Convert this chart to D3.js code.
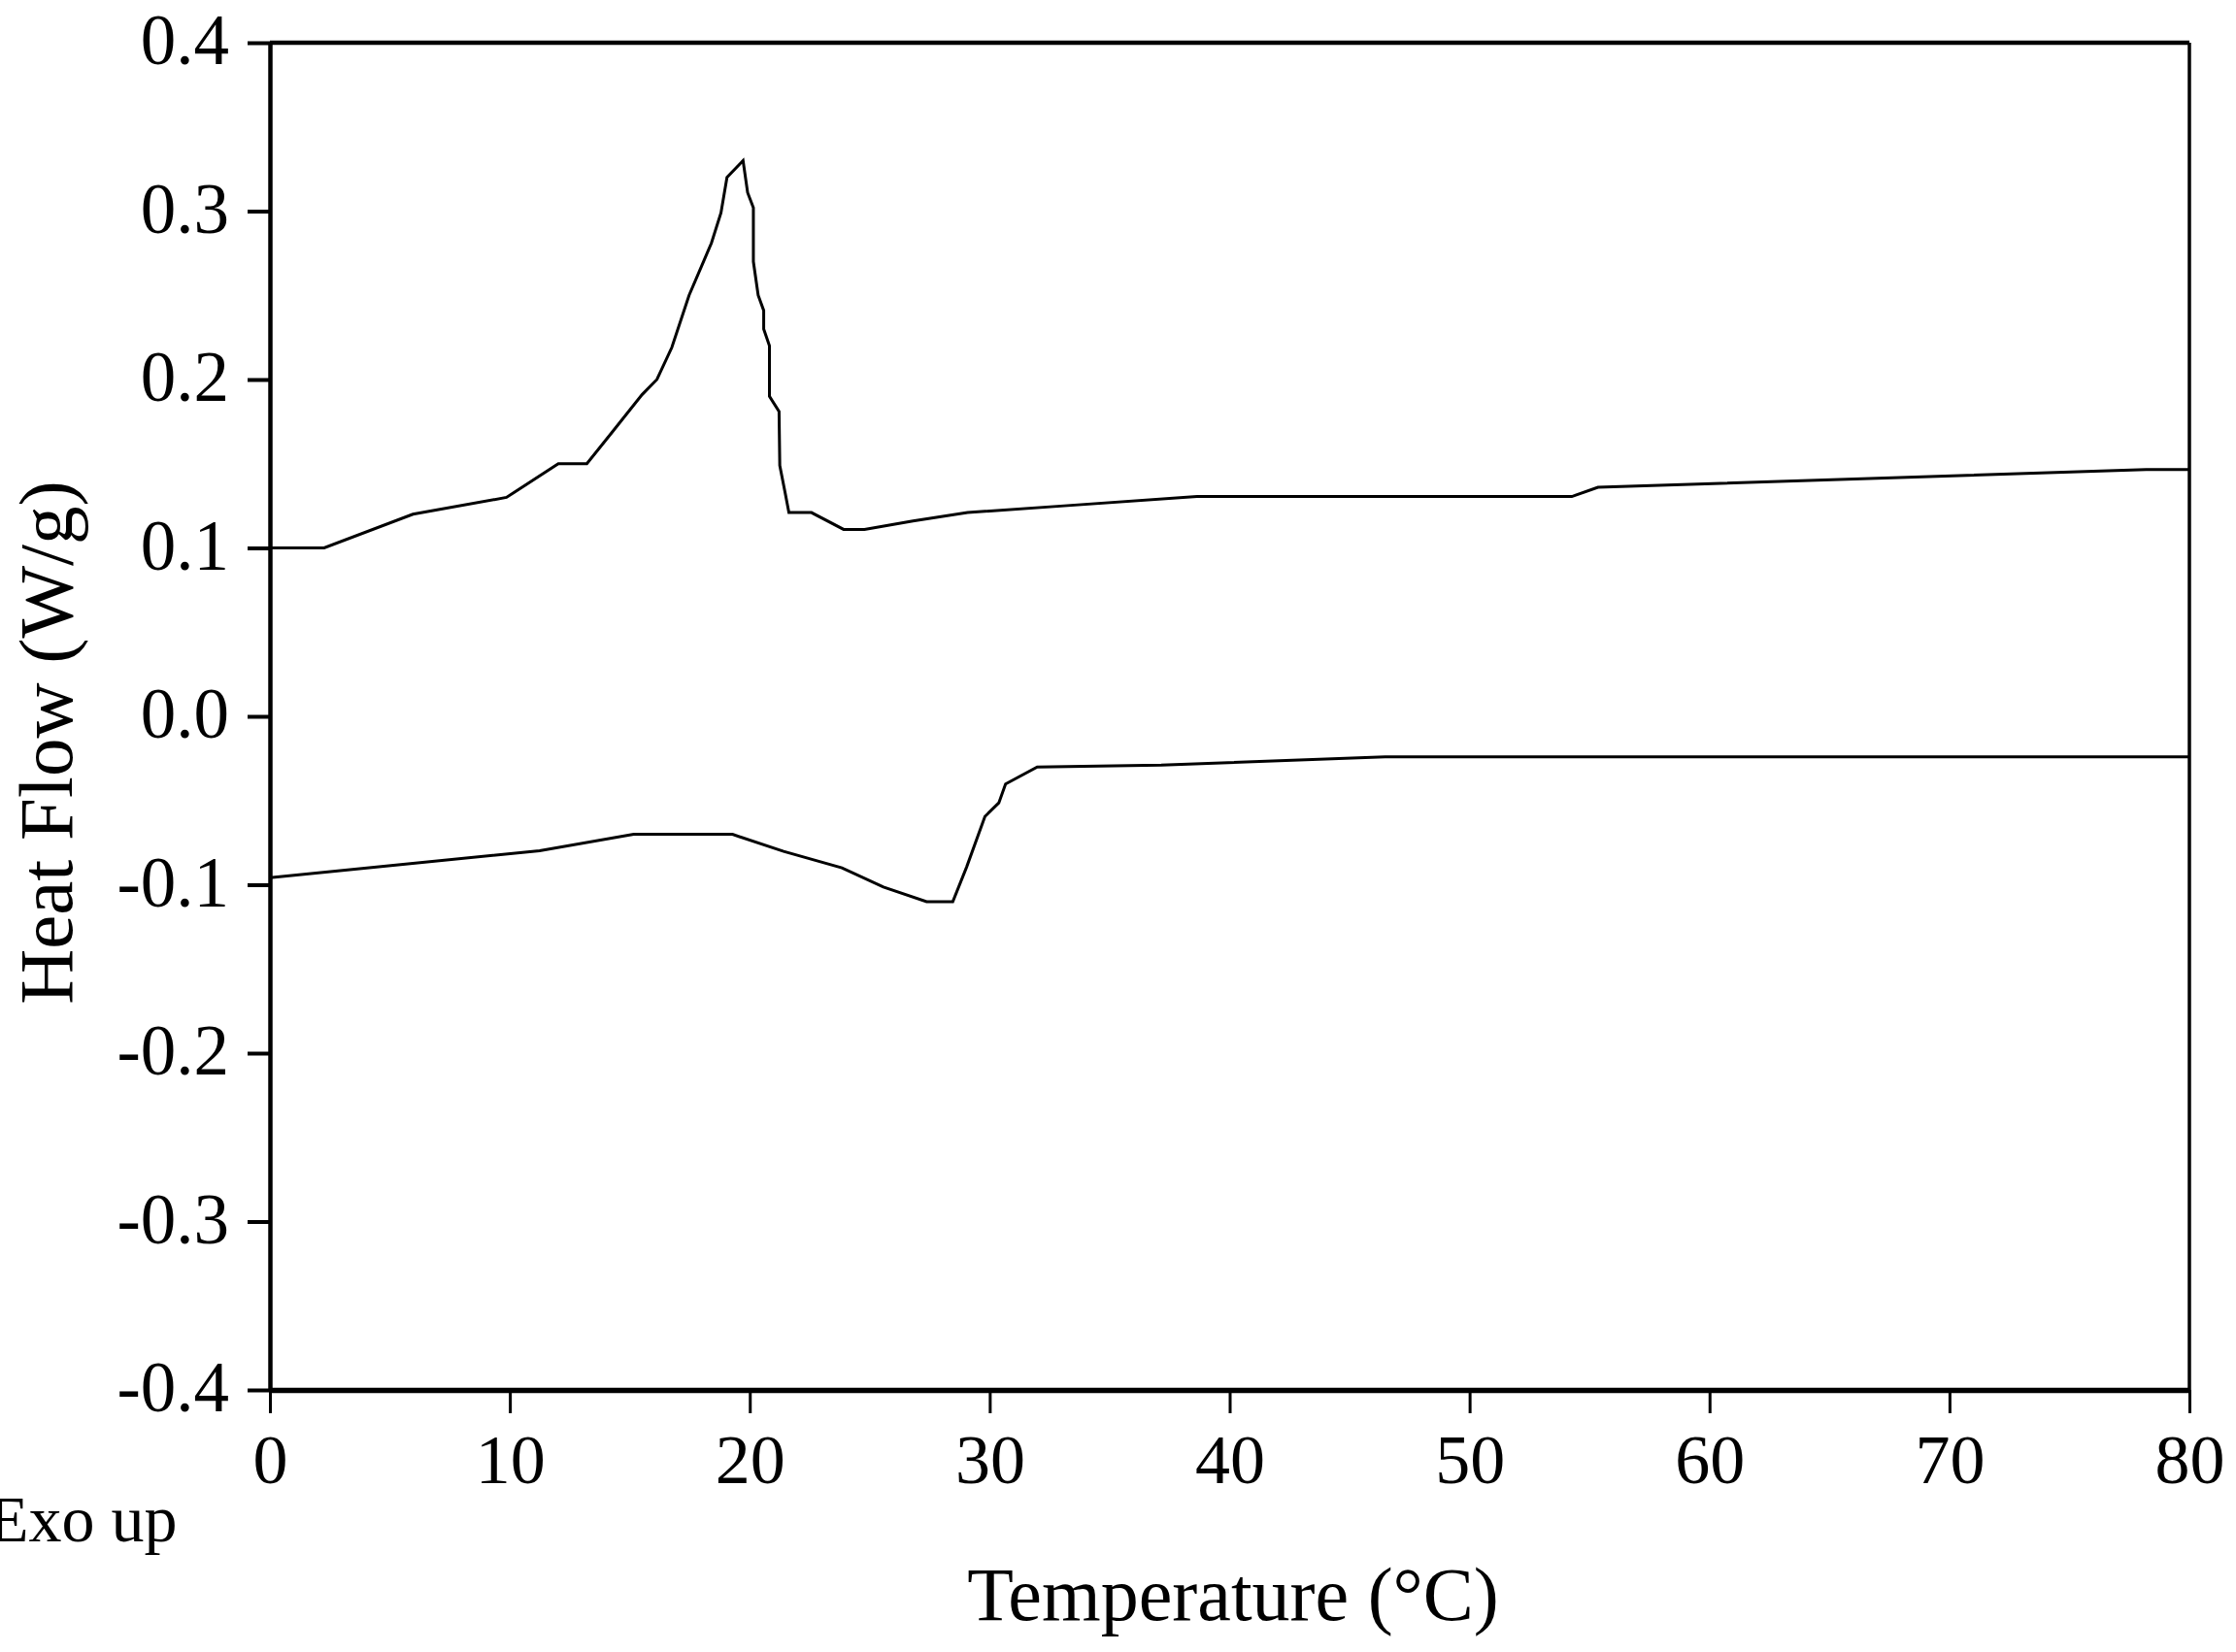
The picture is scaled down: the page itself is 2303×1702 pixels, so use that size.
<!DOCTYPE html>
<html>
<head>
<meta charset="utf-8">
<script src="https://cdn.jsdelivr.net/npm/d3@7"></script>
<style>
  body { margin: 0; background: #fff; }
  svg text { font-family: "Liberation Serif", "Times New Roman", serif; fill: #000; }
</style>
</head>
<body>
<div id="chart"></div>
<script>
// upper trace (exo peak)
var upperT = [0, 2.26, 5.96, 9.86, 12.02, 13.21, 14.28, 15.51, 16.13, 16.75, 17.47, 18.1, 18.4, 18.8, 19.05, 19.72,
  19.91, 20.15, 20.15, 20.35, 20.58, 20.58, 20.82, 20.82, 21.22, 21.25, 21.47, 21.63, 22.57, 23.91, 24.78, 26.8,
  29.08, 33.1, 38.64, 54.26, 55.35, 78.2, 80];
var upperHF = [0.100, 0.100, 0.120, 0.130, 0.150, 0.150, 0.169, 0.191, 0.200, 0.219, 0.250, 0.271, 0.281, 0.299, 0.320, 0.330,
  0.311, 0.302, 0.270, 0.250, 0.241, 0.230, 0.220, 0.190, 0.181, 0.149, 0.133, 0.121, 0.121, 0.111, 0.111, 0.116,
  0.121, 0.125, 0.1305, 0.1305, 0.136, 0.1466, 0.1466];

// lower trace (endo dip)
var lowerT = [0, 11.24, 15.16, 19.28, 21.41, 23.84, 25.57, 27.37, 28.46, 29.04, 29.8, 30.38, 30.66, 31.98, 37.15, 46.48, 80];
var lowerHF = [-0.0958, -0.0798, -0.0701, -0.0701, -0.0802, -0.090, -0.1014, -0.1101, -0.1101, -0.0894, -0.0595, -0.0514,
  -0.0402, -0.0301, -0.029, -0.024, -0.024];

var xTicks = [0, 10, 20, 30, 40, 50, 60, 70, 80];
var yTicks = [-0.4, -0.3, -0.2, -0.1, 0.0, 0.1, 0.2, 0.3, 0.4];

var W = 2303, H = 1702;
var plotLeft = 278, plotRight = 2255, plotTop = 44, plotBottom = 1432;

var svg = d3.select("#chart").append("svg")
    .attr("width", W)
    .attr("height", H);

var x = d3.scaleLinear().domain([0, 80]).range([plotLeft, plotRight]);
var y = d3.scaleLinear().domain([-0.4, 0.4]).range([plotBottom, plotTop]);

var line = d3.line()
    .x(function (d) { return x(d[0]); })
    .y(function (d) { return y(d[1]); });

var upper = upperT.map(function (t, i) { return [t, upperHF[i]]; });
var lower = lowerT.map(function (t, i) { return [t, lowerHF[i]]; });

svg.append("path").datum(upper)
    .attr("d", line)
    .attr("fill", "none")
    .attr("stroke", "#000")
    .attr("stroke-width", 3);

svg.append("path").datum(lower)
    .attr("d", line)
    .attr("fill", "none")
    .attr("stroke", "#000")
    .attr("stroke-width", 3);

// frame top and right
svg.append("line")
    .attr("x1", plotLeft).attr("x2", plotRight)
    .attr("y1", plotTop).attr("y2", plotTop)
    .attr("stroke", "#000").attr("stroke-width", 4.5);
svg.append("line")
    .attr("x1", plotRight).attr("x2", plotRight)
    .attr("y1", plotTop).attr("y2", plotBottom)
    .attr("stroke", "#000").attr("stroke-width", 3.5);

var xAxis = svg.append("g")
    .attr("transform", "translate(0," + plotBottom + ")")
    .call(d3.axisBottom(x).tickValues(xTicks).tickSize(24).tickSizeOuter(0).tickFormat(d3.format("d")));
xAxis.select(".domain").attr("stroke-width", 5.5);
xAxis.selectAll(".tick line").attr("stroke-width", 3);
xAxis.selectAll(".tick text")
    .attr("y", 96).attr("dy", 0)
    .style("font-size", "72px");

var yAxis = svg.append("g")
    .attr("transform", "translate(" + plotLeft + ",0)")
    .call(d3.axisLeft(y).tickValues(yTicks).tickSize(23).tickSizeOuter(0)
      .tickFormat(function (d) { return d.toFixed(1); }));
yAxis.select(".domain").attr("stroke-width", 4.5);
yAxis.selectAll(".tick line").attr("stroke-width", 4);
yAxis.selectAll(".tick text")
    .attr("x", -42).attr("dy", "0.3em")
    .style("font-size", "73px");

svg.selectAll(".domain, .tick line").attr("stroke", "#000");

svg.append("text")
    .attr("x", 1270).attr("y", 1669)
    .attr("text-anchor", "middle")
    .style("font-size", "78px")
    .text("Temperature (°C)");

svg.append("text")
    .attr("transform", "translate(74,765) rotate(-90)")
    .attr("text-anchor", "middle")
    .style("font-size", "79px")
    .text("Heat Flow (W/g)");

svg.append("text")
    .attr("x", -12).attr("y", 1588)
    .style("font-size", "68px")
    .text("Exo up");
</script>
</body>
</html>
